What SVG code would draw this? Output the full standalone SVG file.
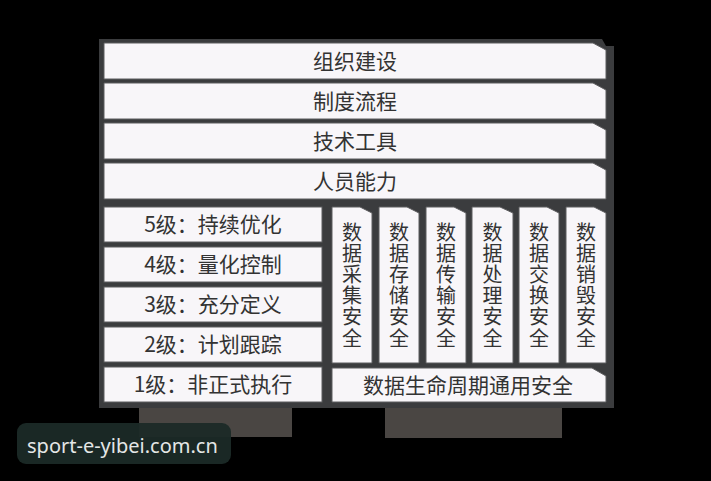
<svg xmlns="http://www.w3.org/2000/svg" width="711" height="481" viewBox="0 0 711 481">
<style>
.bar{fill:#f8f6f9;stroke:#5c5c5e;stroke-width:1}
.t{font-family:"Noto Sans CJK SC","Noto Sans",sans-serif;font-size:21px;fill:#333;text-anchor:middle}
.v{font-family:"Noto Sans CJK SC",sans-serif;font-size:20px;fill:#333;writing-mode:vertical-rl;letter-spacing:1.2px}
</style>
<rect x="0" y="0" width="711" height="481" fill="#000"/>
<g id="legs">
<rect x="139" y="407" width="153" height="30" fill="#4a4643"/>
<rect x="385" y="407" width="177" height="31" fill="#4a4643"/>
</g>
<g id="frame">
<path d="M99,39 H602 L606,46 H614 V408 H99 Z" fill="#3b3c3e"/>
</g>
<g id="connectors"></g>
<g id="layer-org"><path class="bar" d="M104,43 H593 L606,50 V79 H104 Z"/><text class="t" x="355" y="68.5">组织建设</text></g>
<g id="layer-policy"><path class="bar" d="M104,83 H593 L606,90 V119 H104 Z"/><text class="t" x="355" y="108.5">制度流程</text></g>
<g id="layer-tech"><path class="bar" d="M104,123 H593 L606,130 V159 H104 Z"/><text class="t" x="355" y="148.5">技术工具</text></g>
<g id="layer-people"><path class="bar" d="M104,163 H593 L606,170 V199 H104 Z"/><text class="t" x="355" y="188.5">人员能力</text></g>
<g id="level5"><rect class="bar" x="104" y="207" width="218" height="35"/><text class="t" x="213" y="232">5级：持续优化</text></g>
<g id="level4"><rect class="bar" x="104" y="247" width="218" height="35"/><text class="t" x="213" y="272">4级：量化控制</text></g>
<g id="level3"><rect class="bar" x="104" y="287" width="218" height="35"/><text class="t" x="213" y="312">3级：充分定义</text></g>
<g id="level2"><rect class="bar" x="104" y="327" width="218" height="35"/><text class="t" x="213" y="352">2级：计划跟踪</text></g>
<g id="level1"><rect class="bar" x="104" y="367" width="218" height="35"/><text class="t" x="213" y="392">1级：非正式执行</text></g>
<g id="col-collect"><path class="bar" d="M332,207 H360 L372,213 V363 H332 Z"/><text class="v" x="352" y="222">数据采集安全</text></g>
<g id="col-store"><path class="bar" d="M379,207 H407 L419,213 V363 H379 Z"/><text class="v" x="399" y="222">数据存储安全</text></g>
<g id="col-transfer"><path class="bar" d="M426,207 H454 L466,213 V363 H426 Z"/><text class="v" x="446" y="222">数据传输安全</text></g>
<g id="col-process"><path class="bar" d="M472,207 H500 L513,213 V363 H472 Z"/><text class="v" x="492.5" y="222">数据处理安全</text></g>
<g id="col-exchange"><path class="bar" d="M519,207 H547 L559,213 V363 H519 Z"/><text class="v" x="539" y="222">数据交换安全</text></g>
<g id="col-destroy"><path class="bar" d="M566,207 H594 L606,213 V363 H566 Z"/><text class="v" x="586" y="222">数据销毁安全</text></g>
<g id="lifecycle-general"><path class="bar" d="M332,368 H592 L606,376 V402 H332 Z"/><text class="t" x="468" y="392.5">数据生命周期通用安全</text></g>
<g id="watermark">
<rect x="17" y="423" width="214" height="41" rx="9" fill="#1b2a27" fill-opacity="0.95"/>
<text x="27" y="453" font-family="'Noto Sans',sans-serif" font-size="20" fill="#e4e6e6">sport-e-yibei.com.cn</text>
</g>
</svg>
